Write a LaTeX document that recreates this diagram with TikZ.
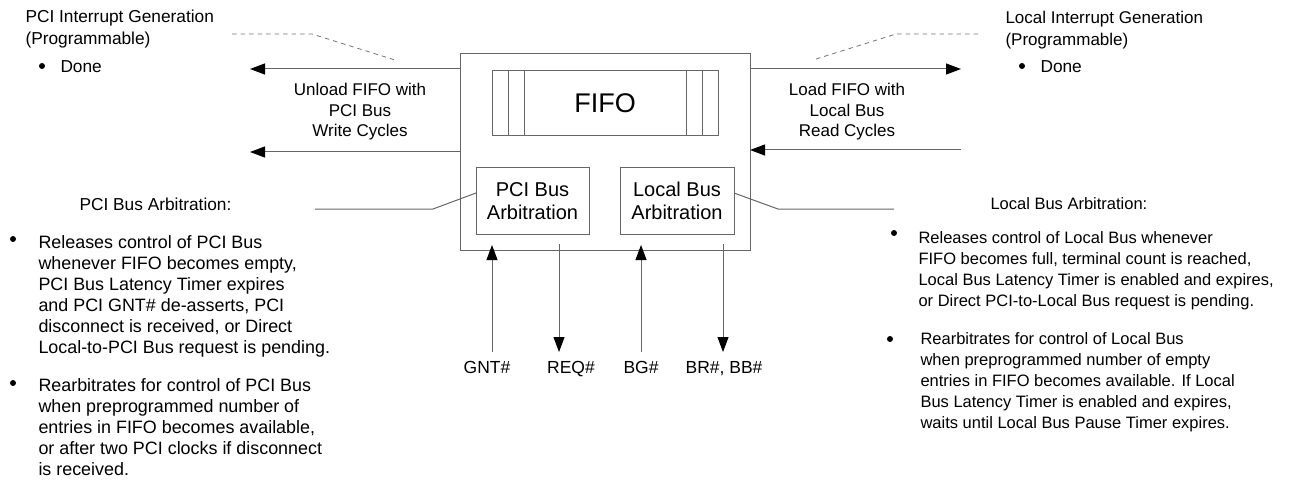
\documentclass[tikz,border=0pt]{standalone}
\usepackage{fontspec}
\setmainfont{Liberation Sans}
\usetikzlibrary{arrows.meta}
\begin{document}
\begin{tikzpicture}[x=1pt,y=-1pt,line width=1pt,
  ln/.style={draw=black!60},
  arr/.style={draw=black!60,-{Triangle[length=15pt,width=11pt,color=black]}},
  dsh/.style={draw=black!55,line width=0.8pt,dash pattern=on 4.5pt off 4pt},
  boxn/.style={draw=black!60,inner sep=0pt,outer sep=0pt},
  txt/.style={inner sep=0pt,anchor=base west,align=left,font=\fontsize{16.5}{20.8}\selectfont},
  txtl/.style={inner sep=0pt,anchor=base west,align=left,font=\fontsize{17.9}{20.9}\selectfont},
  hdr/.style={inner sep=0pt,anchor=base west,align=left,font=\fontsize{17.3}{22}\selectfont},
  ctr/.style={inner sep=0pt,anchor=base,align=center,font=\fontsize{17}{20.5}\selectfont},
  lbl/.style={inner sep=0pt,anchor=base,font=\fontsize{17.5}{20}\selectfont},
  dot/.style={circle,fill=black,inner sep=0pt,minimum size=6pt}
]
\useasboundingbox (0,0) rectangle (1316,481);

% main blocks
\node[boxn,minimum width=290pt,minimum height=196pt] (main) at (605,152) {};
\node[boxn,minimum width=226pt,minimum height=65pt,font=\fontsize{27}{30}\selectfont] (fifo) at (605,103.5) {FIFO};
\draw[ln] ([xshift=16pt]fifo.north west) -- ([xshift=16pt]fifo.south west);
\draw[ln] ([xshift=32pt]fifo.north west) -- ([xshift=32pt]fifo.south west);
\draw[ln] ([xshift=-16pt]fifo.north east) -- ([xshift=-16pt]fifo.south east);
\draw[ln] ([xshift=-32pt]fifo.north east) -- ([xshift=-32pt]fifo.south east);
\node[boxn,minimum width=113pt,minimum height=66pt,align=center,font=\fontsize{20}{23}\selectfont] (pciarb) at (532.5,201) {PCI Bus\\Arbitration};
\node[boxn,minimum width=114pt,minimum height=66pt,align=center,font=\fontsize{20}{23}\selectfont] (locarb) at (677,201) {Local Bus\\Arbitration};

% left side (multi-line nodes: base = last line baseline)
\node[hdr] (pciint) at (25,45) {PCI Interrupt Generation\\(Programmable)};
\node[dot] (pdot) at (42,66) {};
\node[hdr] (pdone) at (60,73) {Done};
\coordinate (pd1) at (232,34);
\coordinate (pd2) at (312,34);
\coordinate (pd3) at (395,60);
\draw[dsh] (pd1) -- (pd2) -- (pd3);
\coordinate (lt1) at (250,69);
\coordinate (lt2) at (250,152);
\draw[arr] (main.west |- lt1) -- (lt1);
\draw[arr] (main.west |- lt2) -- (lt2);
\node[ctr] (unload) at (360,137) {Unload FIFO with\\PCI Bus\\Write Cycles};

% right side
\node[hdr,font=\fontsize{17}{22}\selectfont] (locint) at (1005,46) {Local Interrupt Generation\\(Programmable)};
\node[dot] (ldot) at (1022,66) {};
\node[hdr] (ldone) at (1040,73) {Done};
\coordinate (ld1) at (816,59);
\coordinate (ld2) at (896,34);
\coordinate (ld3) at (979,34);
\draw[dsh] (ld1) -- (ld2) -- (ld3);
\coordinate (rt1) at (961,69);
\coordinate (rt2) at (961,150);
\draw[arr] (main.east |- rt1) -- (rt1);
\draw[arr] (rt2) -- (main.east |- rt2);
\node[ctr] (load) at (847,137) {Load FIFO with\\Local Bus\\Read Cycles};

% PCI bus arbitration description
\node[hdr] (pcihead) at (79,211) {PCI Bus Arbitration:};
\coordinate (pc1) at (315,209);
\coordinate (pc2) at (433,209);
\draw[ln] (pc1) -- (pc2) -- ([yshift=8pt]pciarb.west);
\node[dot] (pb1) at (13,239) {};
\node[txtl] (pt1) at (38,353) {Releases control of PCI Bus\\whenever FIFO becomes empty,\\PCI Bus Latency Timer expires\\and PCI GNT\# de-asserts, PCI\\disconnect is received, or Direct\\Local-to-PCI Bus request is pending.};
\node[dot] (pb2) at (13,383) {};
\node[txtl] (pt2) at (38,475) {Rearbitrates for control of PCI Bus\\when preprogrammed number of\\entries in FIFO becomes available,\\or after two PCI clocks if disconnect\\is received.};

% Local bus arbitration description
\node[txt] (lochead) at (990,209) {Local Bus Arbitration:};
\coordinate (lc1) at (778,209);
\coordinate (lc2) at (894,209);
\draw[ln] ([yshift=8pt]locarb.east) -- (lc1) -- (lc2);
\node[dot] (lb1) at (894,233) {};
\node[txt] (lt1t) at (918,306) {Releases control of Local Bus whenever\\FIFO becomes full, terminal count is reached,\\Local Bus Latency Timer is enabled and expires,\\or Direct PCI-to-Local Bus request is pending.};
\node[dot] (lb2) at (890,339) {};
\node[txt] (lt2t) at (920,428) {Rearbitrates for control of Local Bus\\when preprogrammed number of empty\\entries in FIFO becomes available. If Local\\Bus Latency Timer is enabled and expires,\\waits until Local Bus Pause Timer expires.};

% bottom signals
\coordinate (gntb) at (492,352);
\coordinate (gntt) at (492,245);
\coordinate (reqt) at (559,244);
\coordinate (reqb) at (559,352);
\coordinate (bgb) at (641,352);
\coordinate (bgt) at (641,245);
\coordinate (brt) at (723,244);
\coordinate (brb) at (723,352);
\draw[arr] (gntb) -- (gntt);
\draw[arr] (reqt) -- (reqb);
\draw[arr] (bgb) -- (bgt);
\draw[arr] (brt) -- (brb);
\node[lbl] (gnt) at (487,373) {GNT\#};
\node[lbl] (req) at (571,373) {REQ\#};
\node[lbl] (bg) at (641,373) {BG\#};
\node[lbl] (br) at (724,373) {BR\#, BB\#};
\end{tikzpicture}
\end{document}
